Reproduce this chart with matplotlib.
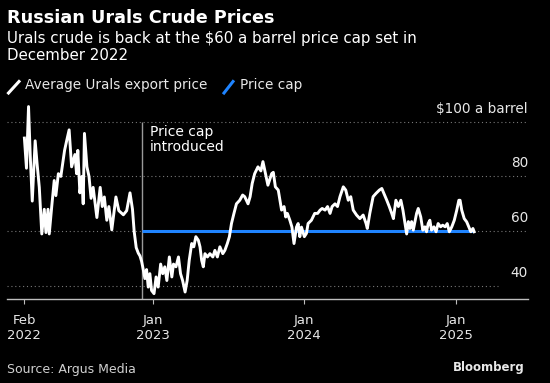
import pandas as pd
import matplotlib
matplotlib.use("Agg")
import matplotlib.pyplot as plt
from matplotlib.lines import Line2D
from matplotlib.transforms import blended_transform_factory

# Urals export price ($/barrel)
urals_dates = [
    "2022-02-24", "2022-03-01", "2022-03-06", "2022-03-10", "2022-03-15", "2022-03-22",
    "2022-03-27", "2022-04-01", "2022-04-07", "2022-04-13", "2022-04-17", "2022-04-22",
    "2022-04-25", "2022-05-01", "2022-05-07", "2022-05-11", "2022-05-17", "2022-05-23",
    "2022-06-01", "2022-06-06", "2022-06-12", "2022-06-18", "2022-06-26", "2022-06-30",
    "2022-07-03", "2022-07-08", "2022-07-13", "2022-07-16", "2022-07-19", "2022-07-25",
    "2022-07-30", "2022-08-04", "2022-08-09", "2022-08-18", "2022-08-26", "2022-08-31",
    "2022-09-05", "2022-09-11", "2022-09-16", "2022-09-23", "2022-10-03", "2022-10-10",
    "2022-10-21", "2022-10-29", "2022-11-06", "2022-11-12", "2022-11-16", "2022-11-21",
    "2022-11-26", "2022-11-30", "2022-12-04", "2022-12-08", "2022-12-12", "2022-12-16",
    "2022-12-20", "2022-12-24", "2022-12-28",
    "2023-01-03", "2023-01-08", "2023-01-13", "2023-01-19", "2023-01-24", "2023-01-29",
    "2023-02-03", "2023-02-09", "2023-02-15", "2023-02-19", "2023-02-25", "2023-03-03",
    "2023-03-08", "2023-03-13", "2023-03-19", "2023-03-24", "2023-03-29", "2023-04-04",
    "2023-04-09", "2023-04-14", "2023-04-20", "2023-04-24", "2023-04-28", "2023-05-02",
    "2023-05-06", "2023-05-12", "2023-05-18", "2023-05-25", "2023-05-30", "2023-06-05",
    "2023-06-11", "2023-06-18", "2023-06-23", "2023-06-29", "2023-07-04", "2023-07-09",
    "2023-07-15", "2023-07-21", "2023-07-29", "2023-08-05", "2023-08-10", "2023-08-18",
    "2023-08-23", "2023-08-28", "2023-09-03", "2023-09-11", "2023-09-18", "2023-09-23",
    "2023-09-29", "2023-10-05", "2023-10-09", "2023-10-14", "2023-10-18", "2023-10-23",
    "2023-10-30", "2023-11-03", "2023-11-07", "2023-11-13", "2023-11-17", "2023-11-21",
    "2023-11-27", "2023-12-02", "2023-12-07", "2023-12-13", "2023-12-17", "2023-12-21",
    "2023-12-25",
    "2024-01-01", "2024-01-06", "2024-01-10", "2024-01-18", "2024-01-26", "2024-02-02",
    "2024-02-08", "2024-02-13", "2024-02-20", "2024-02-26", "2024-03-03", "2024-03-08",
    "2024-03-15", "2024-03-21", "2024-03-27", "2024-04-04", "2024-04-10", "2024-04-16",
    "2024-04-22", "2024-04-28", "2024-05-06", "2024-05-14", "2024-05-22", "2024-05-29",
    "2024-06-01", "2024-06-07", "2024-06-15", "2024-06-22", "2024-06-30", "2024-07-06",
    "2024-07-11", "2024-07-18", "2024-07-24", "2024-07-30", "2024-08-03", "2024-08-09",
    "2024-08-15", "2024-08-21", "2024-08-26", "2024-08-31", "2024-09-04", "2024-09-08",
    "2024-09-12", "2024-09-16", "2024-09-20", "2024-09-24", "2024-09-28", "2024-10-02",
    "2024-10-08", "2024-10-13", "2024-10-18", "2024-10-22", "2024-10-26", "2024-10-30",
    "2024-11-03", "2024-11-09", "2024-11-14", "2024-11-19", "2024-11-25", "2024-11-30",
    "2024-12-06", "2024-12-11", "2024-12-16", "2024-12-22", "2024-12-28",
    "2025-01-03", "2025-01-08", "2025-01-11", "2025-01-15", "2025-01-21", "2025-01-27",
    "2025-02-01", "2025-02-06", "2025-02-11", "2025-02-14",
]
urals_price = [
    94, 83, 105.5, 88, 71, 93,
    84, 76, 59, 68, 59.5, 68,
    59, 69, 78.5, 73, 81, 80,
    89.5, 93, 97, 83.5, 88, 81,
    89.5, 74, 80, 70, 95.7, 83.5,
    80, 72, 76, 65, 76, 69,
    72.5, 64, 69, 60.5, 72.5, 67.5,
    66, 67.5, 74, 68, 60, 54,
    52, 51, 49, 46, 42.7, 46,
    39.6, 44.5, 38.4,
    37.2, 43.3, 39.6, 48, 44.5, 47,
    42, 50.6, 43.3, 48, 47, 50.6,
    44.5, 42, 37.8, 42, 49.4, 55.5,
    54.3, 58, 56.7, 54.3, 49.4, 47,
    51.8, 50.6, 51.8, 50.6, 53, 50.6,
    54.3, 51.8, 53, 55.5, 58, 62.8,
    66.5, 70, 71.3, 73.2, 72.6, 70,
    72.6, 77.4, 81, 83.5, 82, 85.4,
    81, 76.8, 78.7, 81, 81.5, 76.2,
    75, 71.3, 67.7, 69, 65.2, 66.5,
    64, 61.5, 55.5, 61.5, 62.8, 58,
    61.5,
    58, 59.2, 62.8, 64, 66.5, 66.5,
    67.7, 68.3, 67.7, 69, 66.5, 69,
    70, 69, 72.6, 76.2, 75, 71.3,
    72.6, 67.7, 65.9, 64.6, 65.9, 62.8,
    61, 66.5, 72.6, 73.8, 75, 75.6,
    73.8, 71.3, 69, 66.5, 64.6, 71.3,
    69, 71.3, 67.7, 62.8, 59, 63.5,
    61, 63.5, 60.4, 63.5, 66.5, 68.3,
    65.2, 60.4, 61.6, 59.8, 62.8, 64,
    60.4, 61.6, 59.8, 62.8, 61.6, 62.2,
    61.6, 62.8, 59.8, 61.6, 64,
    67.7, 71.3, 71.3, 67.7, 64.6, 63.4,
    61.6, 59.8, 61, 59.8,
]

cap_date = "2022-12-05"
cap_price = 60

tick_dates = ["2022-02-24", "2023-01-01", "2024-01-01", "2025-01-01"]
tick_labels = ["Feb\n2022", "Jan\n2023", "Jan\n2024", "Jan\n2025"]
y_ticks = [40, 60, 80, 100]
y_labels = ["40", "60", "80", "$100 a barrel"]

dates = pd.to_datetime(urals_dates)
cap_dt = pd.Timestamp(cap_date)

W, H = 550, 383
fig = plt.figure(figsize=(W / 100, H / 100), dpi=100, facecolor="black")
ax = fig.add_axes([7 / W, 84 / H, 521 / W, 199 / H])
ax.set_facecolor("black")
ax.set_xlim(pd.Timestamp("2022-01-13"), pd.Timestamp("2025-06-24"))
ax.set_ylim(35.25, 107.9)

for s in ["top", "left", "right"]:
    ax.spines[s].set_visible(False)
ax.spines["bottom"].set_color("#bdbdbd")
ax.spines["bottom"].set_linewidth(1)

ax.set_yticks([])
ax.set_xticks(pd.to_datetime(tick_dates))
ax.set_xticklabels(tick_labels)
ax.tick_params(axis="x", direction="out", length=3.6, width=0.8, color="#bdbdbd",
               labelcolor="#e8e8e8", labelsize=9.5, pad=7)

# dotted gridlines and labels sitting above them
trans = blended_transform_factory(ax.transAxes, ax.transData)
for v, lab in zip(y_ticks, y_labels):
    ax.axhline(v, xmin=0, xmax=0.943 if v == 40 else 1, color="#777777", lw=0.8,
               ls=(0, (1, 2.5)), zorder=1)
    ax.annotate(lab, xy=(1, v), xycoords=trans, xytext=(0, 6.5),
                textcoords="offset points", ha="right", va="baseline",
                color="#e8e8e8", fontsize=9.8)

# price cap marker
ax.vlines(cap_dt, ax.get_ylim()[0], 100, color="#9a9a9a", lw=1, zorder=2)
ax.annotate("Price cap\nintroduced", xy=(cap_dt, 100), xytext=(5.5, -2.5),
            textcoords="offset points", ha="left", va="top", color="white",
            fontsize=10, linespacing=1.1)
ax.hlines(cap_price, cap_dt, dates[-1], color="#1f84ff", lw=2.2, zorder=3)

ax.plot(dates, urals_price, color="white", lw=2.1, solid_joinstyle="round", zorder=4)

# header
fig.text(7 / W, 1 - 23 / H, "Russian Urals Crude Prices", color="white",
         fontsize=12.7, fontweight="bold", va="baseline")
fig.text(7 / W, 1 - 43.5 / H, "Urals crude is back at the $60 a barrel price cap set in",
         color="white", fontsize=10.8, va="baseline")
fig.text(7 / W, 1 - 60 / H, "December 2022", color="white", fontsize=10.8, va="baseline")

# legend
fig.add_artist(Line2D([8.5 / W, 19 / W], [1 - 93 / H, 1 - 81.5 / H], color="white",
                      lw=2.2, transform=fig.transFigure))
fig.text(25 / W, 1 - 89.5 / H, "Average Urals export price", color="#e8e8e8",
         fontsize=9.8, va="baseline")
fig.add_artist(Line2D([224 / W, 233 / W], [1 - 93 / H, 1 - 81.5 / H], color="#1f84ff",
                      lw=2.2, transform=fig.transFigure))
fig.text(240 / W, 1 - 89.5 / H, "Price cap", color="#e8e8e8", fontsize=9.8, va="baseline")

# footer
fig.text(7 / W, 1 - 373 / H, "Source: Argus Media", color="#d0d0d0", fontsize=9,
         va="baseline")
fig.text(525 / W, 1 - 371 / H, "Bloomberg", color="#e8e8e8", fontsize=8.5,
         fontweight="bold", ha="right", va="baseline")

fig.savefig("out.png", dpi=100, facecolor="black")
